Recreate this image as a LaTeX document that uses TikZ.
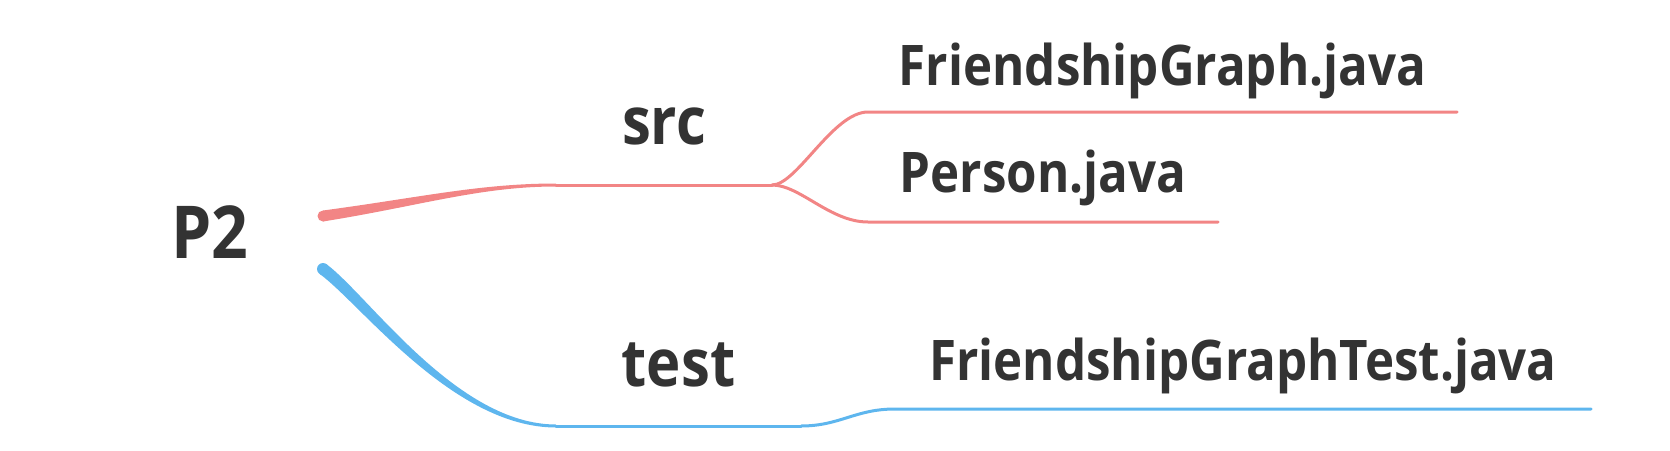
\documentclass[tikz,border=0pt]{standalone}
\usepackage{fontspec}
\setmainfont{Open Sans}[FakeStretch=0.88]
\usetikzlibrary{calc}
\definecolor{ink}{HTML}{333333}
\definecolor{srcred}{HTML}{F28585}
\definecolor{testblue}{HTML}{5EB6EE}
\newcommand\MapFont[1]{\fontsize{#1}{#1}\selectfont\bfseries}
\tikzset{
    rootlabel/.style={anchor=base, inner sep=0pt, text=ink, font=\MapFont{73}},
    topiclabel/.style={anchor=base, inner sep=0pt, text=ink, font=\MapFont{66}},
    leaflabel/.style={anchor=base, inner sep=0pt, text=ink, font=\MapFont{56}},
    twig/.style={line width=3pt, line cap=round},
}

\begin{document}
\begin{tikzpicture}[x=1pt,y=-1pt]
    \useasboundingbox (0,0) rectangle (1670,450);
    \node[rootlabel] (P2) at (210,258) {P2};
    \coordinate (SrcStart) at (323,216);
    \coordinate (TestStart) at (323,269);
    \begin{scope}[color=srcred] % src
        \fill (SrcStart) circle (5.5);
        \fill (323,210.5) .. controls (420,197.5) and (480,183.5) .. (556,183.5)
            -- (556,186.5) .. controls (480,186.5) and (420,206) .. (323,221.5) -- cycle;
        \coordinate (SrcL) at (556,185);
        \coordinate (SrcR) at (772,185);
        \node[topiclabel] (src) at ($(SrcL)!0.5!(SrcR)+(0,-41)$) {src};
        \draw[twig] (SrcL) -- (SrcR);
        \coordinate (GraphL) at (868,112);
        \coordinate (GraphR) at (1457,112);
        \node[leaflabel] (graph) at ($(GraphL)!0.5!(GraphR)+(0,-27)$) {FriendshipGraph.java};
        \draw[twig] (SrcR) .. controls (797,185) and (833,112) .. (GraphL) -- (GraphR);
        \coordinate (PersonL) at (868,222);
        \coordinate (PersonR) at (1218,222);
        \node[leaflabel] (person) at ($(PersonL)!0.5!(PersonR)+(0,-30)$) {Person.java};
        \draw[twig] (SrcR) .. controls (800,185) and (830,222) .. (PersonL) -- (PersonR);
    \end{scope}
    \begin{scope}[color=testblue] % test
        \fill (TestStart) circle (6);
        \fill (326.5,264.2) .. controls (369,296) and (457,424.5) .. (556,424.5)
            -- (556,427.5) .. controls (453,427.5) and (361,304) .. (319.5,273.8) -- cycle;
        \coordinate (TestL) at (556,426);
        \coordinate (TestR) at (801,426);
        \node[topiclabel] (test) at ($(TestL)!0.5!(TestR)+(0,-40)$) {test};
        \draw[twig] (TestL) -- (TestR);
        \coordinate (GraphTestL) at (895,409);
        \coordinate (GraphTestR) at (1591,409);
        \node[leaflabel] (graphtest) at ($(GraphTestL)!0.5!(GraphTestR)+(0,-29)$) {FriendshipGraphTest.java};
        \draw[twig] (TestR) .. controls (840,426) and (855,409) .. (GraphTestL) -- (GraphTestR);
    \end{scope}
\end{tikzpicture}
\end{document}
